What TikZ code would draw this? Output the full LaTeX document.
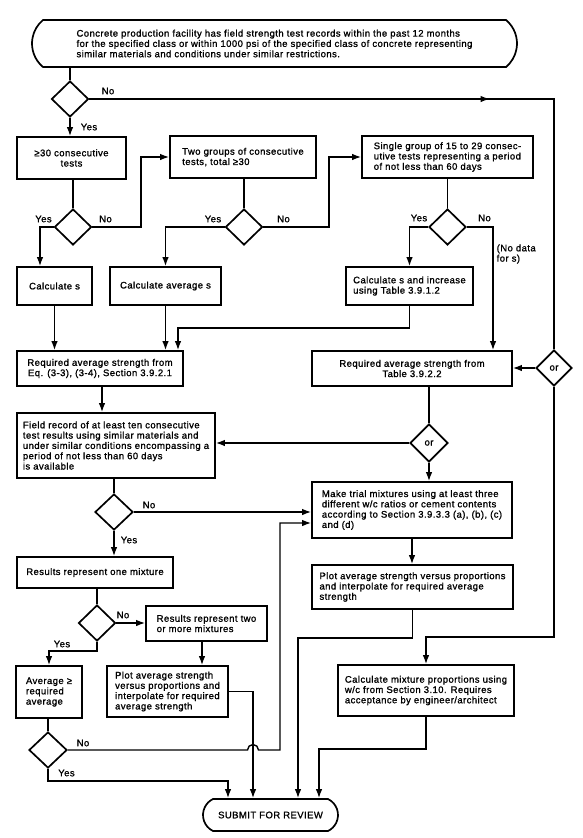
\documentclass[tikz,border=0pt]{standalone}
\usepackage{fontspec}
\setmainfont{Liberation Sans}[LetterSpace=4.5,FakeBold=1.2]
\usetikzlibrary{arrows.meta,shapes.geometric,shapes.misc,decorations.markings}
\begin{document}
\begin{tikzpicture}[x=1pt,y=-1pt,
  font=\fontsize{9.5}{10.3}\selectfont,
  line width=1.4pt,
  >={Latex[length=9pt,width=6.5pt]},
  box/.style={draw,rectangle,line width=1.7pt,inner sep=0pt,align=left},
  cbox/.style={box,align=center},
  term/.style={draw,rounded rectangle,rounded rectangle arc length=#1,line width=1.7pt,inner sep=0pt,align=left},
  dec/.style={draw,diamond,line width=1.7pt,inner sep=0pt,minimum width=37pt,minimum height=36pt},
  lbl/.style={inner sep=0pt},
  wh/.style 2 args={minimum width=#1pt,minimum height=#2pt},
  midarrow/.style={postaction=decorate,decoration={markings,mark=at position #1 with {\arrow{Latex[length=9pt,width=6.5pt]}}}}
]
\useasboundingbox (0,0) rectangle (583,838);

% nodes
\node[term=100,wh={485}{47}] (top) at (274.5,43.5) {Concrete production facility has field strength test records within the past 12 months\\for the specified class or within 1000 psi of the specified class of concrete representing\\similar materials and conditions under similar restrictions.};
\node[dec] (d1) at (70,99) {};
\node[cbox,wh={109}{42}] (A) at (71.5,158) {≥30 consecutive\\tests};
\node[dec] (d2) at (73,227) {};
\node[box,wh={146}{42}] (B) at (243,157) {Two groups of consecutive\\tests, total ≥30};
\node[dec] (d3) at (244,227) {};
\node[box,wh={171}{42}] (C) at (447.5,157) {Single group of 15 to 29 consec-\\utive tests representing a period\\of not less than 60 days};
\node[dec] (d4) at (447.5,227) {};
\node[cbox,wh={75}{38}] (cs) at (54.5,286) {Calculate s};
\node[cbox,wh={111}{38}] (cas) at (165.5,286) {Calculate average s};
\node[box,wh={127}{38}] (csi) at (409.5,286) {Calculate s and increase\\using Table 3.9.1.2};
\node[cbox,wh={166}{35}] (req1) at (100,368.5) {Required average strength from\\Eq. (3-3), (3-4), Section 3.9.2.1};
\node[cbox,wh={200}{35}] (req2) at (412,368.5) {Required average strength from\\Table 3.9.2.2};
\node[dec,minimum width=36pt] (dor1) at (554,368) {or};
\node[box,wh={198}{65}] (field) at (116,445.5) {Field record of at least ten consecutive\\test results using similar materials and\\under similar conditions encompassing a\\period of not less than 60 days\\is available};
\node[dec,minimum width=38pt,minimum height=38pt] (dor2) at (429,443) {or};
\node[dec,minimum width=38pt] (d5) at (114,512) {};
\node[box,wh={200}{56}] (trial) at (412,510) {Make trial mixtures using at least three\\different w/c ratios or cement contents\\according to Section 3.9.3.3 (a), (b), (c)\\and (d)};
\node[box,wh={156}{31}] (one) at (95,572.5) {Results represent one mixture};
\node[dec] (d6) at (97,623) {};
\node[box,wh={121}{35}] (two) at (206.5,623.5) {Results represent two\\or more mixtures};
\node[box,wh={201}{44}] (plotR) at (412.5,587) {Plot average strength versus proportions\\and interpolate for required average\\strength};
\node[box,wh={66}{52}] (avg) at (49,692) {Average ≥\\required\\average};
\node[box,wh={121}{51}] (plotL) at (167.5,691.5) {Plot average strength\\versus proportions and\\interpolate for required\\average strength};
\node[box,wh={176}{51}] (mix) at (426,690.5) {Calculate mixture proportions using\\w/c from Section 3.10. Requires\\acceptance by engineer/architect};
\node[dec,minimum width=38pt] (d7) at (48,750) {};
\node[term=128,wh={135}{32}] (sub) at (270.5,815) {SUBMIT FOR REVIEW};

% labels
\node[lbl] (l1n) at (108,91) {No};
\node[lbl] (l1y) at (89,127) {Yes};
\node[lbl] (l2y) at (43.5,219) {Yes};
\node[lbl] (l2n) at (105.5,219) {No};
\node[lbl] (l3y) at (213,219) {Yes};
\node[lbl] (l3n) at (283.5,219) {No};
\node[lbl] (l4y) at (419,218) {Yes};
\node[lbl] (l4n) at (484.5,218) {No};
\node[lbl,anchor=west,align=left] (nd) at (496,254) {(No data\\for s)};
\node[lbl] (l5n) at (149,505) {No};
\node[lbl] (l5y) at (129,540) {Yes};
\node[lbl] (l6n) at (123,615) {No};
\node[lbl] (l6y) at (62,644) {Yes};
\node[lbl] (l7n) at (83,743) {No};
\node[lbl] (l7y) at (66.5,773) {Yes};

% connectors
\draw (top.south -| d1.north) -- (d1.north);
\draw[midarrow=0.56] (d1.east) -| (dor1.north);
\draw[->] (d1.south) -- (d1.south |- A.north);
\draw (d2.north |- A.south) -- (d2.north);
\coordinate (csin) at ([xshift=-14.5pt]cs.north);
\draw[->] (d2.west) -| (csin);
\draw[->] (d2.east) -| (141,0 |- B.west) -- (B.west);
\draw (d3.north |- B.south) -- (d3.north);
\draw[->] (d3.west) -| (cas.north);
\draw[->] (d3.east) -| (329,0 |- C.west) -- (C.west);
\draw (C.south) -- (d4.north);
\draw[->] (d4.west) -| (csi.north);
\coordinate (r2in) at ([xshift=81pt]req2.north);
\draw[->] (d4.east) -| (r2in);
\draw[->] (cs.south) -- (cs.south |- req1.north);
\draw[->] (cas.south) -- (cas.south |- req1.north);
\draw[->] (csi.south) |- (178,328) -- (178,0 |- req1.north);
\coordinate (r1o) at ([xshift=2pt]req1.south);
\draw[->] (r1o) -- (r1o |- field.north);
\draw[->] (dor1.west) -- (dor1.west -| req2.east);
\draw (dor2.north |- req2.south) -- (dor2.north);
\draw[->] (dor2.west) -- (dor2.west -| field.east);
\draw[->] (dor2.south) -- (dor2.south |- trial.north);
\draw (d5.north |- field.south) -- (d5.north);
\draw[->] (d5.east) -- (d5.east -| trial.west);
\draw[->] (d5.south) -- (d5.south |- one.north);
\draw (d6.north |- one.south) -- (d6.north);
\draw[->] (d6.east) -- (d6.east -| two.west);
\draw[->] (d6.south) |- (avg.north |- 0,651) -- (avg.north);
\coordinate (t2) at ([xshift=-4.5pt]two.south);
\draw[->] (t2) -- (t2 |- plotL.north);
\draw (d7.north |- avg.south) -- (d7.north);
\draw[->] (d7.east) -- (247.5,750) arc[start angle=180,end angle=0,radius=5.5pt] -- (280,750) -- (280,523) -- (280,523 -| trial.west);
\draw[->] (d7.south) |- (228,781) -- (228,0 |- sub.north);
\draw[->] (plotL.east) -| (253,0 |- sub.north);
\draw[->] (plotR.south) |- (298,638) -- (298,0 |- sub.north);
\draw[->] (mix.south) |- (319,749) -- (319,0 |- sub.north);
\draw[->] (dor1.south) |- (mix.north |- 0,637) -- (mix.north);
\draw[->] (trial.south) -- (trial.south |- plotR.north);
\end{tikzpicture}
\end{document}
